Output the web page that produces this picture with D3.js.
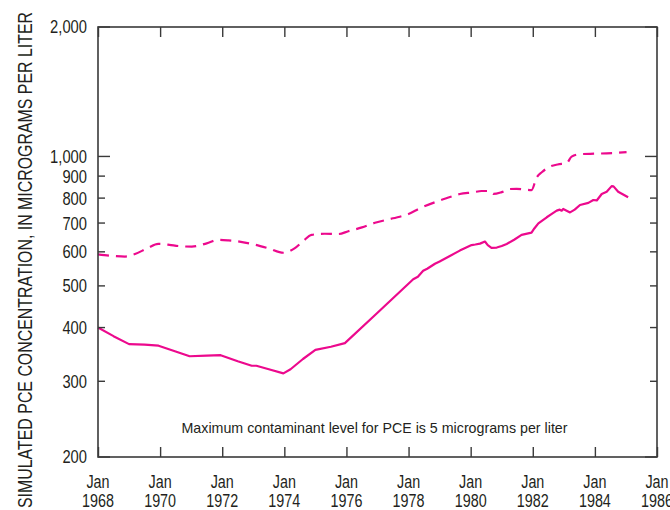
<!DOCTYPE html>
<html>
<head>
<meta charset="utf-8">
<script src="https://cdn.jsdelivr.net/npm/d3@7"></script>
<style>
  body { margin: 0; background: #fff; }
  svg { display: block; }
  text { font-family: "Liberation Sans", Arial, sans-serif; fill: #231f20; }
</style>
</head>
<body>
<svg id="chart" width="670" height="510"></svg>
<script>
// Simulated PCE concentration, solid line (decimal year, micrograms per liter)
const solidYears = [1968.0, 1968.5, 1969.0, 1969.5, 1969.95, 1970.5, 1970.95, 1971.5, 1971.95, 1972.5,
  1972.95, 1973.1, 1973.5, 1973.97, 1974.2, 1974.6, 1975.0, 1975.5, 1975.95, 1977.0,
  1978.15, 1978.3, 1978.47, 1978.6, 1978.85, 1979.0, 1979.33, 1979.65, 1980.03, 1980.15,
  1980.3, 1980.46, 1980.55, 1980.67, 1980.84, 1981.0, 1981.16, 1981.4, 1981.64, 1981.96,
  1982.05, 1982.18, 1982.45, 1982.6, 1982.77, 1982.87, 1982.93, 1982.98, 1983.2, 1983.35,
  1983.52, 1983.79, 1983.95, 1984.06, 1984.22, 1984.38, 1984.54, 1984.6, 1984.75, 1985.07];
const solidValues = [400, 382, 366, 365, 363, 352, 343, 344, 345, 334,
  326, 326, 320, 313, 320, 338, 355, 361, 368, 433,
  518, 525, 542, 548, 563, 570, 587, 604, 622, 624,
  627, 634, 622, 613, 614, 619, 626, 640, 657, 665,
  680, 699, 722, 734, 748, 752, 748, 755, 741, 752,
  771, 780, 792, 790, 818, 828, 853, 852, 828, 804];

// Simulated PCE concentration, dashed line
const dashedYears = [1968.0, 1968.5, 1968.87, 1969.19, 1969.6, 1969.94, 1970.3, 1970.59, 1971.02, 1971.5,
  1971.88, 1972.2, 1972.6, 1972.95, 1973.5, 1973.97, 1974.34, 1974.6, 1974.88, 1975.3,
  1975.74, 1976.06, 1976.5, 1976.92, 1977.5, 1978.0, 1978.37, 1978.9, 1979.44, 1979.65,
  1980.08, 1980.35, 1980.62, 1980.73, 1981.0, 1981.27, 1981.48, 1981.96, 1982.12, 1982.3,
  1982.55, 1982.8, 1983.09, 1983.25, 1983.52, 1984.0, 1984.38, 1985.02];
const dashedValues = [592, 587, 585, 593, 612, 626, 623, 619, 617, 628,
  640, 638, 633, 626, 611, 597, 612, 635, 657, 661,
  660, 670, 684, 701, 718, 735, 758, 785, 809, 818,
  825, 831, 831, 818, 826, 840, 841, 835, 892, 920,
  947, 958, 964, 999, 1012, 1015, 1017, 1023];

const xTicks = [1968, 1970, 1972, 1974, 1976, 1978, 1980, 1982, 1984, 1986];
const yTicks = [200, 300, 400, 500, 600, 700, 800, 900, 1000, 2000];
const yMajor = [200, 1000, 2000];

const yLabel = 'SIMULATED PCE CONCENTRATION, IN MICROGRAMS PER LITER';
const note = 'Maximum contaminant level for PCE is 5 micrograms per liter';

const lineColor = '#ec098d';
const axisColor = '#3a3a3a';
const narrow = 0.82; // squeeze Liberation Sans to a narrow face

const margin = { top: 27, right: 13, bottom: 53, left: 98 };
const svg = d3.select('#chart');
const width = +svg.attr('width') - margin.left - margin.right;
const height = +svg.attr('height') - margin.top - margin.bottom;

const g = svg.append('g')
  .attr('transform', `translate(${margin.left},${margin.top})`);

const x = d3.scaleLinear().domain([1968, 1986]).range([0, width]);
const y = d3.scaleLog().domain([200, 2000]).range([height, 0]);

// series
const solidLine = d3.line()
  .x(d => x(d[0]))
  .y(d => y(d[1]));
const dashedLine = d3.line()
  .x(d => x(d[0]))
  .y(d => y(d[1]))
  .curve(d3.curveMonotoneX);

const solid = solidYears.map((t, i) => [t, solidValues[i]]);
const dashed = dashedYears.map((t, i) => [t, dashedValues[i]]);

g.append('path')
  .datum(dashed)
  .attr('d', dashedLine)
  .attr('fill', 'none')
  .attr('stroke', lineColor)
  .attr('stroke-width', 2.2)
  .attr('stroke-dasharray', '11,7');

g.append('path')
  .datum(solid)
  .attr('d', solidLine)
  .attr('fill', 'none')
  .attr('stroke', lineColor)
  .attr('stroke-width', 2.2)
  .attr('stroke-linejoin', 'round');

// inward ticks on all four sides
const tickLen = v => yMajor.includes(v) ? 12 : 7;

const bottomAxis = d3.axisBottom(x).tickValues(xTicks).tickSize(-10).tickFormat('');
const topAxis = d3.axisTop(x).tickValues(xTicks).tickSize(-10).tickFormat('');
g.append('g').attr('transform', `translate(0,${height})`).call(bottomAxis);
g.append('g').call(topAxis);

const leftTicks = g.append('g');
const rightTicks = g.append('g');
yTicks.forEach(v => {
  leftTicks.append('line')
    .attr('x1', 0).attr('x2', tickLen(v))
    .attr('y1', y(v)).attr('y2', y(v));
  rightTicks.append('line')
    .attr('x1', width).attr('x2', width - tickLen(v))
    .attr('y1', y(v)).attr('y2', y(v));
});
g.selectAll('.tick line, g > line')
  .attr('stroke', axisColor)
  .attr('stroke-width', 1.4);
g.selectAll('.domain').remove();

// frame
g.append('rect')
  .attr('width', width)
  .attr('height', height)
  .attr('fill', 'none')
  .attr('stroke', axisColor)
  .attr('stroke-width', 1.6);

// y tick labels
g.append('g')
  .selectAll('text')
  .data(yTicks)
  .enter()
  .append('text')
  .attr('transform', d => `translate(-11,${y(d)}) scale(${narrow},1)`)
  .attr('dy', '0.36em')
  .attr('text-anchor', 'end')
  .style('font-size', '18px')
  .text(d => d3.format(',')(d));

// x tick labels, two lines
const xl = g.append('g')
  .selectAll('text')
  .data(xTicks)
  .enter()
  .append('text')
  .attr('transform', d => `translate(${x(d)},${height}) scale(${narrow},1)`)
  .attr('text-anchor', 'middle')
  .style('font-size', '17.5px');
xl.append('tspan')
  .attr('x', 0)
  .attr('y', 31)
  .text('Jan');
xl.append('tspan')
  .attr('x', 0)
  .attr('y', 50.5)
  .text(d => d);

// y axis title
svg.append('text')
  .attr('transform', 'translate(32,260) rotate(-90)')
  .attr('text-anchor', 'middle')
  .attr('textLength', 496)
  .attr('lengthAdjust', 'spacingAndGlyphs')
  .style('font-size', '20.5px')
  .text(yLabel);

// note
g.append('text')
  .attr('x', x(1977) - 3)
  .attr('y', height - 24.5)
  .attr('text-anchor', 'middle')
  .attr('textLength', 386)
  .attr('lengthAdjust', 'spacingAndGlyphs')
  .style('font-size', '15px')
  .text(note);
</script>
</body>
</html>
